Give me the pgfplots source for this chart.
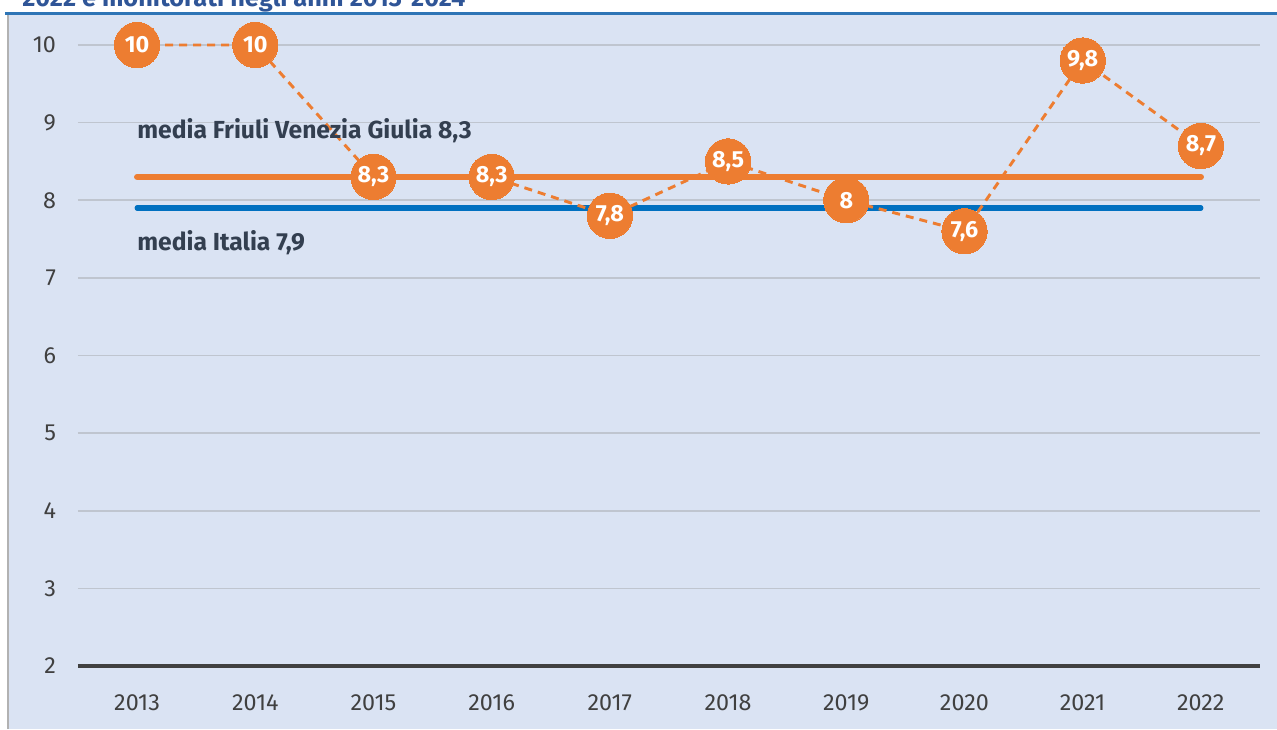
\documentclass[border=0pt]{standalone}
\usepackage{pgfplots}
\pgfplotsset{compat=1.18}
\usepackage{fontspec}
\setmainfont{Fira Sans}
\definecolor{bgblue}{HTML}{DAE3F3}
\definecolor{dataorange}{HTML}{ED7D31}
\definecolor{itblue}{HTML}{0070C0}
\definecolor{titleblue}{HTML}{2F5597}
\definecolor{ruleblue}{HTML}{2E75B6}
\definecolor{gridgrey}{HTML}{BFC5CF}
\definecolor{labnavy}{HTML}{333F50}
\definecolor{ticktext}{HTML}{404040}

\begin{document}
\begin{tikzpicture}[x=0.75pt,y=0.75pt]
\path[use as bounding box] (0,0) rectangle (1277,729);
\fill[bgblue] (8,0) rectangle (1277,714);
\draw[gray!60,line width=1.5pt] (8,0) -- (8,714);
\draw[ruleblue,line width=2.5pt] (5,715.5) -- (1277,715.5);
\node[anchor=base west,font=\bfseries\fontsize{19}{22}\selectfont,text=titleblue,inner sep=0pt]
  at (22,722) {2022 e monitorati negli anni 2013-2024};
\begin{axis}[
  at={(58.5pt,47.25pt)},anchor=south west,
  scale only axis,width=886.5pt,height=465.75pt,
  xmin=2012.5,xmax=2022.5,ymin=2,ymax=10,
  xtick={2013,...,2022},ytick={2,...,10},
  /pgf/number format/1000 sep={},
  /pgf/number format/assume math mode=true,
  axis line style={draw=none},
  major tick length=0pt,
  ymajorgrids,grid style={gridgrey,line width=1.3pt},
  ticklabel style={font=\fontsize{17.5}{20}\selectfont,text=ticktext},
  xticklabel style={yshift=-18pt},
  yticklabel style={xshift=-13pt},
  clip=false,
]
\draw[ticktext,line width=2.6pt] (rel axis cs:0,0) -- (rel axis cs:1,0);
\addplot[dataorange,line width=4.6pt,line cap=round] coordinates {(2013,8.3)(2022,8.3)};
\addplot[itblue,line width=3.8pt,line cap=round] coordinates {(2013,7.9)(2022,7.9)};
\addplot[dataorange,line width=2.2pt,dash pattern=on 6pt off 4.5pt,
  mark=*,mark size=17pt,mark options={solid,fill=dataorange,draw=dataorange,line width=0pt},
  nodes near coords,
  nodes near coords align={center},
  every node near coord/.append style={anchor=center,text=white,
    font=\bfseries\fontsize{17.5}{20}\selectfont,
    /pgf/number format/use comma,/pgf/number format/assume math mode=true},
] coordinates {
(2013,10)(2014,10)(2015,8.3)(2016,8.3)(2017,7.8)
(2018,8.5)(2019,8)(2020,7.6)(2021,9.8)(2022,8.7)};
\node[anchor=west,inner sep=0pt,text=labnavy,font=\bfseries\fontsize{18.5}{21}\selectfont]
  at (axis cs:2013,8.9) {media Friuli Venezia Giulia 8,3};
\node[anchor=west,inner sep=0pt,text=labnavy,font=\bfseries\fontsize{18.5}{21}\selectfont]
  at (axis cs:2013,7.45) {media Italia 7,9};
\end{axis}
\end{tikzpicture}
\end{document}
